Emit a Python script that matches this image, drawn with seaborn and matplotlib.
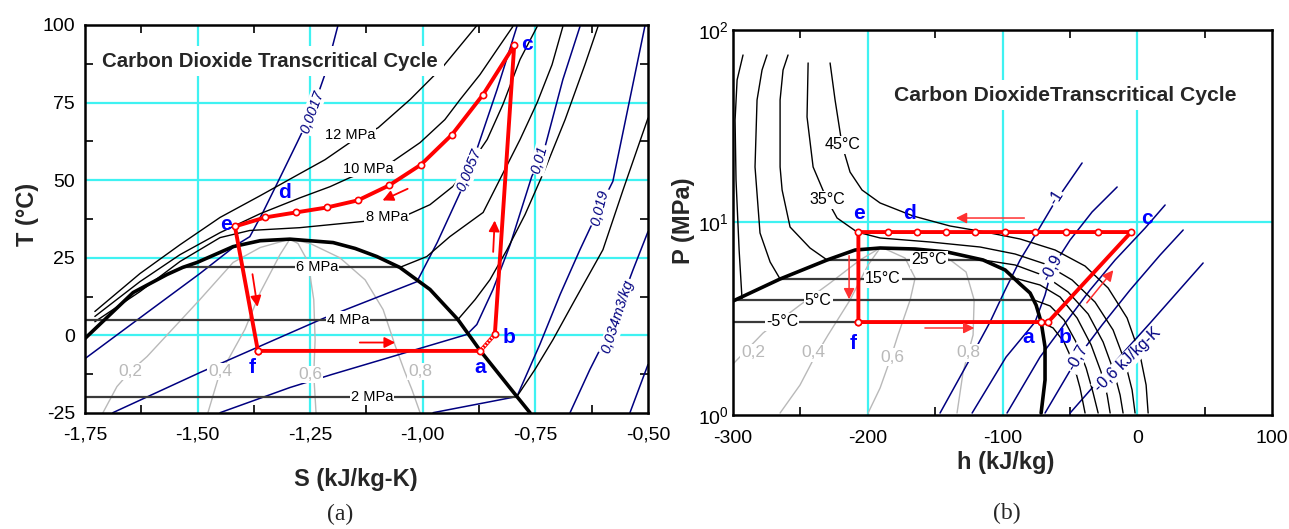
import matplotlib
matplotlib.use("Agg")
import matplotlib.pyplot as plt
import seaborn as sns

sns.set_theme(style="white")
plt.rcParams['font.family'] = ['Liberation Sans', 'DejaVu Sans']
plt.rcParams['mathtext.fontset'] = 'custom'
plt.rcParams['mathtext.rm'] = 'Liberation Sans'
plt.rcParams['mathtext.it'] = 'Liberation Sans:italic'
plt.rcParams['mathtext.bf'] = 'Liberation Sans:bold'
plt.rcParams['axes.unicode_minus'] = False

# ---------------- (a) T-s diagram data ----------------
dome_S = [-1.750, -1.643, -1.568, -1.533, -1.501, -1.421, -1.361, -1.295, -1.199, -1.150,
          -1.102, -1.051, -0.984, -0.922, -0.872, -0.791, -0.762]
dome_T = [-1.0, 13.8, 19.6, 21.9, 23.5, 28.6, 30.5, 31.0, 29.9, 28.0,
          25.4, 21.9, 14.8, 5.1, -5.0, -19.7, -24.9]

# two-phase isobars (6, 4, 2 MPa)
flat_T = [21.9, 5.1, -19.7]
flat_S0 = [-1.533, -1.750, -1.750]
flat_S1 = [-1.051, -0.922, -0.791]
flat_names = ["6 MPa", "4 MPa", "2 MPa"]
flat_label_S = [-1.235, -1.166, -1.113]

iso12_S = [-1.728, -1.628, -1.539, -1.450, -1.361, -1.273, -1.217, -1.162, -1.099, -1.028, -0.955, -0.880]
iso12_T = [7.7, 19.9, 29.2, 38.0, 45.0, 52.1, 56.6, 62.1, 66.9, 76.0, 86.6, 99.8]
iso10_S = [-1.728, -1.628, -1.539, -1.450, -1.361, -1.273, -1.206, -1.162, -1.068, -1.006,
           -0.951, -0.917, -0.873, -0.835, -0.800]
iso10_T = [6.1, 17.3, 26.0, 33.1, 39.2, 44.3, 47.9, 50.8, 55.9, 62.1, 69.5, 76.0, 84.0, 92.1, 99.5]
iso8_S = [-1.728, -1.628, -1.539, -1.450, -1.384, -1.273, -1.133, -1.033, -0.984, -0.933,
          -0.895, -0.857, -0.822, -0.784, -0.746]
iso8_T = [4.4, 14.1, 23.8, 31.5, 33.8, 34.7, 36.7, 38.9, 42.1, 48.0, 55.0, 63.1, 74.4, 88.9, 99.5]
iso6_S = [-1.051, -0.991, -0.940, -0.866, -0.829, -0.784, -0.746, -0.713, -0.689]
iso6_T = [21.9, 25.4, 31.8, 39.6, 50.2, 63.1, 75.0, 87.2, 99.5]
iso4_S = [-0.922, -0.884, -0.851, -0.813, -0.773, -0.729, -0.684, -0.640, -0.611]
iso4_T = [5.1, 11.5, 17.9, 27.6, 38.9, 53.4, 69.5, 87.2, 99.5]
iso2_S = [-0.791, -0.751, -0.711, -0.662, -0.600, -0.555, -0.500]
iso2_T = [-19.7, -11.0, -1.4, 11.5, 27.6, 47.0, 70.0]
isobar_names = ["12 MPa", "10 MPa", "8 MPa"]
isobar_label_S = [-1.162, -1.122, -1.080]
isobar_label_T = [64.7, 53.7, 38.0]

# isochores (m3/kg)
v1_S = [-1.750, -1.606, -1.495, -1.413, -1.384, -1.355, -1.317, -1.279, -1.246, -1.215, -1.188]
v1_T = [-7.5, 8.0, 19.9, 29.2, 31.8, 39.6, 50.8, 62.1, 72.1, 85.0, 100.0]
v2_S = [-1.688, -1.495, -1.222, -1.013, -0.968, -0.917, -0.897, -0.880, -0.835, -0.791]
v2_T = [-24.9, -12.0, 5.4, 17.3, 29.9, 46.0, 53.4, 59.9, 79.2, 99.5]
v3_S = [-1.450, -1.295, -1.202, -0.902, -0.880, -0.844, -0.806, -0.758, -0.740, -0.729, -0.689, -0.651]
v3_T = [-24.9, -16.8, -12.6, 0.3, 3.5, 14.8, 29.2, 51.2, 56.6, 60.5, 82.4, 99.5]
v4_S = [-0.977, -0.791, -0.740, -0.695, -0.651, -0.607, -0.578, -0.507]
v4_T = [-24.9, -19.7, -2.9, 13.2, 27.6, 41.2, 49.6, 99.5]
v5_S = [-0.673, -0.629, -0.584, -0.562, -0.533, -0.500]
v5_T = [-24.9, -11.0, 1.9, 10.0, 21.2, 33.4]
v6_S = [-0.540, -0.500]
v6_T = [-24.9, -9.4]
vol_names = ["0,0017", "0,0057", "0,01", "0,019", "0,034m3/kg"]
vol_label_S = [-1.246, -0.897, -0.740, -0.607, -0.567]
vol_label_T = [72.1, 53.4, 56.6, 41.2, 6.1]
vol_label_rot = [70, 68, 74, 76, 72]

# vapour quality lines
q2_S = [-1.710, -1.679, -1.650, -1.612, -1.495, -1.421, -1.361, -1.295]
q2_T = [-24.9, -16.5, -11.7, -6.8, 11.5, 23.5, 28.3, 31.0]
q4_S = [-1.477, -1.457, -1.450, -1.432, -1.395, -1.361, -1.317, -1.295]
q4_T = [-24.9, -15.2, -11.7, -7.8, 1.9, 13.8, 26.0, 31.0]
q6_S = [-1.237, -1.242, -1.239, -1.242, -1.255, -1.277, -1.295]
q6_T = [-24.9, -12.6, -1.4, 11.5, 23.8, 29.6, 31.0]
q8_S = [-1.006, -1.024, -1.040, -1.062, -1.088, -1.128, -1.184, -1.250, -1.295]
q8_T = [-24.9, -17.5, -11.7, -3.0, 8.3, 17.9, 25.0, 29.6, 31.0]
q_names = ["0,2", "0,4", "0,6", "0,8"]
q_label_S = [-1.650, -1.450, -1.250, -1.006]
q_label_T = [-11.7, -11.7, -12.6, -11.7]

# cycle f-a-b-c-...-e-f
cyc_S = [-1.366, -0.872, -0.840, -0.797, -0.866, -0.935, -1.004, -1.075, -1.144, -1.213,
         -1.282, -1.350, -1.417, -1.366]
cyc_T = [-5.0, -5.0, 0.3, 93.4, 77.6, 64.7, 55.0, 48.3, 43.5, 41.2, 39.6, 38.0, 35.1, -5.0]
pt_names = ["a", "b", "c", "d", "e", "f"]
pt_S = [-0.873, -0.809, -0.769, -1.306, -1.437, -1.379]
pt_T = [-10.3, -0.7, 93.7, 46.0, 35.7, -10.4]
arrL = [((-1.028, 47.6), (-1.095, 43.1)), ((-0.844, 26.0), (-0.840, 37.9)),
        ((-1.379, 20.6), (-1.366, 8.3)), ((-1.146, -2.3), (-1.055, -2.3))]

S_ticks = [-1.75, -1.50, -1.25, -1.00, -0.75, -0.50]
S_ticklabels = ["-1,75", "-1,50", "-1,25", "-1,00", "-0,75", "-0,50"]
T_ticks = [-25, 0, 25, 50, 75, 100]

# ---------------- (b) P-h diagram data ----------------
domeR_h = [-300.0, -265.1, -230.2, -209.5, -190.9, -164.9, -141.2, -114.5, -98.1, -87.0,
           -79.6, -75.1, -71.4, -68.5, -68.5, -71.4]
domeR_P = [3.91, 5.088, 6.387, 7.195, 7.371, 7.283, 7.028, 6.387, 5.666, 4.79,
           4.303, 3.72, 3.042, 2.256, 1.520, 1.024]

tflat_P = [6.387, 5.088, 3.957, 3.042]
tflat_h0 = [-230.2, -265.1, -300.0, -300.0]
tflat_h1 = [-114.5, -88.5, -76.6, -71.4]
tflat_names = ["25°C", "15°C", "5°C", "-5°C"]
tflat_label_h = [-154.5, -188.7, -236.9, -263.6]

t45_h = [-228.0, -224.3, -219.1, -213.2, -204.3, -190.9, -166.4, -139.0, -113.0, -87.0,
         -61.0, -38.8, -21.7, -7.6, 2.0, 6.5, 8.0]
t45_P = [67.41, 43.30, 25.27, 18.29, 14.75, 12.63, 10.81, 9.59, 8.925, 8.21,
         7.195, 5.94, 4.568, 3.19, 2.049, 1.432, 1.024]
t35_h = [-244.3, -245.1, -240.6, -230.2, -222.8, -208.0, -190.9, -153.8, -116.7, -90.7,
         -68.5, -48.4, -31.4, -18.0, -9.1, -3.9, -1.7]
t35_P = [67.41, 35.33, 19.43, 13.09, 10.55, 8.925, 8.310, 7.92, 7.459, 6.86,
         6.09, 5.027, 3.86, 2.764, 1.885, 1.349, 1.024]
t25l_h = [-230.2, -242.9, -257.7, -263.6, -265.1, -265.1, -262.9, -259.2]
t25l_P = [6.387, 7.371, 9.475, 14.75, 19.43, 43.30, 61.96, 74.16]
t15l_h = [-265.1, -272.5, -280.0, -283.7, -282.2, -278.5, -274.8]
t15l_P = [5.088, 6.235, 8.822, 19.43, 43.30, 61.96, 74.16]
t5l_h = [-293.3, -295.5, -297.8, -298.5, -297.0, -292.6]
t5l_P = [3.957, 7.195, 16.63, 34.07, 55.01, 74.16]
t25v_h = [-114.5, -90.7, -68.5, -51.4, -36.5, -25.4, -17.3, -12.8, -10.6]
t25v_P = [6.387, 6.016, 5.27, 4.355, 3.347, 2.394, 1.672, 1.27, 1.024]
t15v_h = [-88.5, -72.2, -57.3, -44.7, -34.3, -26.9, -22.4, -20.2]
t15v_P = [5.088, 4.735, 4.10, 3.19, 2.310, 1.672, 1.27, 1.024]
t5v_h = [-76.6, -64.7, -54.4, -45.5, -38.0, -32.8, -29.1]
t5v_P = [3.957, 3.684, 3.115, 2.394, 1.754, 1.301, 1.024]
tm5v_h = [-71.4, -62.5, -54.4, -47.7, -42.5, -38.8]
tm5v_P = [3.042, 2.831, 2.394, 1.885, 1.381, 1.024]
t_curve_names = ["45°C", "35°C"]
t_curve_label_h = [-219.1, -230.2]
t_curve_label_P = [25.27, 13.09]

# isentropes (kJ/kg-K)
s10_h = [-146.4, -123.4, -109.3, -98.1, -87.0, -74.4, -62.5, -41.0]
s10_P = [1.024, 2.001, 3.042, 4.461, 6.387, 8.925, 12.33, 20.38]
s09_h = [-122.6, -97.4, -75.9, -68.5, -63.3, -49.9, -33.6, -15.0]
s09_P = [1.024, 2.001, 3.042, 4.201, 5.803, 8.112, 11.34, 15.29]
s08_h = [-96.7, -72.2, -52.9, -35.1, -16.5, 5.8, 20.6]
s08_P = [1.024, 2.001, 3.042, 4.461, 6.387, 9.363, 12.33]
s07_h = [-68.5, -44.0, -26.2, -5.4, 16.9, 34.0]
s07_P = [1.024, 2.001, 2.934, 4.461, 6.779, 9.141]
s06_h = [-49.9, -17.3, 9.5, 48.8]
s06_P = [1.024, 1.863, 3.006, 6.161]
s_names = ["-1", "-0,9", "-0,7", "-0,6 kJ/kg-K"]
s_label_h = [-60.0, -63.3, -44.7, -7.0]
s_label_P = [13.4, 5.803, 1.978, 1.93]
s_label_rot = [58, 62, 60, 44]

# quality lines
qr2_h = [-300.0, -277.7, -250.3, -228.0, -205.8, -190.9]
qr2_P = [1.841, 2.667, 3.727, 4.850, 6.387, 7.371]
qr4_h = [-265.1, -250.3, -240.6, -229.5, -213.2, -199.8, -190.9]
qr4_P = [1.024, 1.432, 1.931, 2.604, 3.957, 6.016, 7.371]
qr6_h = [-199.8, -190.9, -183.5, -177.6, -168.6, -164.9, -172.4, -188.7]
qr6_P = [1.024, 1.381, 1.931, 2.604, 3.957, 5.149, 6.541, 7.371]
qr8_h = [-133.8, -129.3, -121.9, -121.1, -127.1, -142.7, -168.6, -188.7]
qr8_P = [1.024, 1.672, 2.604, 3.957, 5.532, 6.70, 7.283, 7.371]
qr_label_h = [-285.2, -240.6, -182.0, -125.6]
qr_label_P = [2.100, 2.100, 2.001, 2.100]

cycR_h = [-207.0, -71.5, -66.2, -4.6, -28.9, -52.9, -75.9, -98.1, -120.4, -141.9,
          -163.7, -185.2, -207.0, -207.0]
cycR_P = [3.04, 3.04, 3.04, 8.92, 8.92, 8.92, 8.92, 8.92, 8.92, 8.92,
          8.92, 8.92, 8.92, 3.04]
ptR_h = [-81.1, -53.6, 7.2, -169.4, -206.5, -210.9]
ptR_P = [2.512, 2.512, 10.43, 11.20, 11.20, 2.366]
arrR = [((-81.8, 10.55), (-136.7, 10.55)), ((-213.9, 6.945), (-213.9, 3.86)),
        ((-159.7, 2.831), (-118.9, 2.831)), ((-38.8, 3.727), (-16.5, 5.803))]

h_ticks = [-300, -200, -100, 0, 100]
P_ticks = [1, 10, 100]

# ---------------- styling ----------------
CYAN = '#3ff2f2'
NAVY = '#000080'
QGRAY = '#b9b9b9'
FLATGRAY = '#3a3a3a'
RED = '#ff0000'
PTBLUE = '#0000ff'
WHITE_BOX = dict(facecolor='white', edgecolor='none', pad=0.8)


def curve(ax, xs, ys, color, lw, z):
    sns.lineplot(x=xs, y=ys, ax=ax, sort=False, estimator=None, color=color,
                 linewidth=lw, zorder=z, legend=False)


def tag(ax, x, y, s, size=10, color='black', rot=0, style='normal', z=6):
    ax.text(x, y, s, fontsize=size, color=color, rotation=rot, style=style,
            ha='center', va='center', bbox=WHITE_BOX, zorder=z,
            rotation_mode='anchor')


fig = plt.figure(figsize=(12.89, 5.29), dpi=100)
axL = fig.add_axes([0.0659, 0.2193, 0.4368, 0.7335])
axR = fig.add_axes([0.5687, 0.2155, 0.4182, 0.7278])

# ======== panel (a) ========
for s in [-1.5, -1.25, -1.0, -0.75]:
    axL.axvline(s, color=CYAN, lw=1.6, zorder=0.5)
for t in [0, 25, 50, 75]:
    axL.axhline(t, color=CYAN, lw=1.6, zorder=0.5)

for qs, qt in [(q2_S, q2_T), (q4_S, q4_T), (q6_S, q6_T), (q8_S, q8_T)]:
    curve(axL, qs, qt, QGRAY, 1.0, 1)
for vs, vt in [(v1_S, v1_T), (v2_S, v2_T), (v3_S, v3_T), (v4_S, v4_T), (v5_S, v5_T), (v6_S, v6_T)]:
    curve(axL, vs, vt, NAVY, 1.1, 2)
for ps, pt in [(iso12_S, iso12_T), (iso10_S, iso10_T), (iso8_S, iso8_T),
               (iso6_S, iso6_T), (iso4_S, iso4_T), (iso2_S, iso2_T)]:
    curve(axL, ps, pt, 'black', 1.0, 2.5)
for t, s0, s1 in zip(flat_T, flat_S0, flat_S1):
    curve(axL, [s0, s1], [t, t], FLATGRAY, 1.6, 2.6)
curve(axL, dome_S, dome_T, 'black', 2.6, 3)

for name, s, t in zip(flat_names, flat_label_S, flat_T):
    tag(axL, s, t, name, size=10.5)
for name, s, t in zip(isobar_names, isobar_label_S, isobar_label_T):
    tag(axL, s, t, name, size=10.5)
for name, s, t, r in zip(vol_names, vol_label_S, vol_label_T, vol_label_rot):
    axL.text(s, t, name, fontsize=10.5, color=NAVY, rotation=r, style='italic',
             ha='center', va='center', bbox=WHITE_BOX, zorder=6)
for name, s, t in zip(q_names, q_label_S, q_label_T):
    tag(axL, s, t, name, size=12.5, color=QGRAY)

axL.text(0.329, 0.907, "Carbon Dioxide Transcritical Cycle", transform=axL.transAxes,
         fontsize=14.7, fontweight='bold', ha='center', va='center',
         bbox=dict(facecolor='white', edgecolor='none', pad=4), zorder=6)

curve(axL, cyc_S, cyc_T, RED, 2.8, 7)
axL.plot(cyc_S[1:3], cyc_T[1:3], color='white', lw=1.6, ls=(0, (0.6, 0.9)), zorder=7.5)
axL.plot(cyc_S, cyc_T, ls='none', marker='o', ms=4.5, mfc='white', mec=RED, mew=1.2, zorder=8)
for (p0, p1) in arrL:
    axL.annotate('', xy=p1, xytext=p0,
                 arrowprops=dict(arrowstyle='-|>', color=RED, lw=1.3, mutation_scale=16),
                 zorder=8)
for name, s, t in zip(pt_names, pt_S, pt_T):
    axL.text(s, t, name, fontsize=15, fontweight='bold', color=PTBLUE,
             ha='center', va='center', zorder=9)

axL.set_xlim(-1.75, -0.5)
axL.set_ylim(-25, 100)
axL.set_xticks(S_ticks)
axL.set_xticklabels(S_ticklabels)
axL.set_yticks(T_ticks)
axL.set_xticks([-1.625, -1.375, -1.125, -0.875, -0.625], minor=True)
axL.set_yticks([-12.5, 12.5, 37.5, 62.5, 87.5], minor=True)

# ======== panel (b) ========
axR.set_yscale('log')
for h in [-200, -100, 0]:
    axR.axvline(h, color=CYAN, lw=1.6, zorder=0.5)
axR.axhline(10, color=CYAN, lw=1.6, zorder=0.5)

for qh, qp in [(qr2_h, qr2_P), (qr4_h, qr4_P), (qr6_h, qr6_P), (qr8_h, qr8_P)]:
    curve(axR, qh, qp, QGRAY, 1.0, 1)
for sh, sp in [(s10_h, s10_P), (s09_h, s09_P), (s08_h, s08_P), (s07_h, s07_P), (s06_h, s06_P)]:
    curve(axR, sh, sp, NAVY, 1.1, 2)
for th, tp in [(t45_h, t45_P), (t35_h, t35_P), (t25l_h, t25l_P), (t15l_h, t15l_P),
               (t5l_h, t5l_P), (t25v_h, t25v_P), (t15v_h, t15v_P), (t5v_h, t5v_P),
               (tm5v_h, tm5v_P)]:
    curve(axR, th, tp, 'black', 1.0, 2.5)
for p, h0, h1 in zip(tflat_P, tflat_h0, tflat_h1):
    curve(axR, [h0, h1], [p, p], FLATGRAY, 1.6, 2.6)
curve(axR, domeR_h, domeR_P, 'black', 2.6, 3)

for name, h, p in zip(tflat_names, tflat_label_h, tflat_P):
    tag(axR, h, p, name, size=11.5)
for name, h, p in zip(t_curve_names, t_curve_label_h, t_curve_label_P):
    tag(axR, h, p, name, size=11.5)
for name, h, p, r in zip(s_names, s_label_h, s_label_P, s_label_rot):
    axR.text(h, p, name, fontsize=11.5, color=NAVY, rotation=r,
             ha='center', va='center', bbox=WHITE_BOX, zorder=6)
for name, h, p in zip(q_names, qr_label_h, qr_label_P):
    tag(axR, h, p, name, size=12.5, color=QGRAY)

axR.text(0.616, 0.831, "Carbon DioxideTranscritical Cycle", transform=axR.transAxes,
         fontsize=15.2, fontweight='bold', ha='center', va='center',
         bbox=dict(facecolor='white', edgecolor='none', pad=4), zorder=6)

curve(axR, cycR_h, cycR_P, RED, 2.8, 7)
axR.plot(cycR_h[1:3], cycR_P[1:3], color='white', lw=1.4, ls=(0, (0.6, 0.9)), zorder=7.5)
axR.plot(cycR_h, cycR_P, ls='none', marker='o', ms=4.5, mfc='white', mec=RED, mew=1.2, zorder=8)
for (p0, p1) in arrR:
    axR.annotate('', xy=p1, xytext=p0,
                 arrowprops=dict(arrowstyle='-|>', color='#ff3030', lw=1.1, mutation_scale=16),
                 zorder=8)
for name, h, p in zip(pt_names, ptR_h, ptR_P):
    axR.text(h, p, name, fontsize=15, fontweight='bold', color=PTBLUE,
             ha='center', va='center', zorder=9)

axR.set_xlim(-300, 100)
axR.set_ylim(1, 100)
axR.set_xticks(h_ticks)
axR.set_xticklabels([str(v) for v in h_ticks])
axR.set_yticks(P_ticks)
axR.yaxis.set_minor_locator(matplotlib.ticker.NullLocator())
axR.set_xticks([-250, -150, -50, 50], minor=True)

# ======== common frame / ticks ========
for ax in (axL, axR):
    for sp in ax.spines.values():
        sp.set_color('black')
        sp.set_linewidth(1.8)
        sp.set_zorder(10)
    ax.tick_params(which='major', length=0, labelsize=14, colors='black')
    ax.tick_params(which='minor', direction='in', length=6, width=1.2, color='black',
                   top=True, bottom=True, left=True, right=True)
    ax.set_xlabel('')
    ax.set_ylabel('')
    ax.set_facecolor('white')
axL.tick_params(axis='x', which='major', pad=10)
axL.tick_params(axis='y', which='major', pad=7)
axR.tick_params(axis='x', which='major', pad=11)
axR.tick_params(axis='y', which='major', pad=3)

fig.text(0.0217, 0.595, "T (°C)", rotation=90, fontsize=17, fontweight='bold',
         ha='center', va='center')
fig.text(0.276, 0.093, "S (kJ/kg-K)", fontsize=17, fontweight='bold', ha='center', va='center')
fig.text(0.530, 0.582, "P (MPa)", rotation=90, fontsize=17, fontweight='bold',
         ha='center', va='center')
fig.text(0.780, 0.125, "h (kJ/kg)", fontsize=17, fontweight='bold', ha='center', va='center')
fig.text(0.264, 0.028, "(a)", fontsize=17, family=['Liberation Serif'], ha='center', va='center')
fig.text(0.781, 0.030, "(b)", fontsize=17, family=['Liberation Serif'], ha='center', va='center')

fig.savefig("out.png", dpi=100, facecolor='white')
